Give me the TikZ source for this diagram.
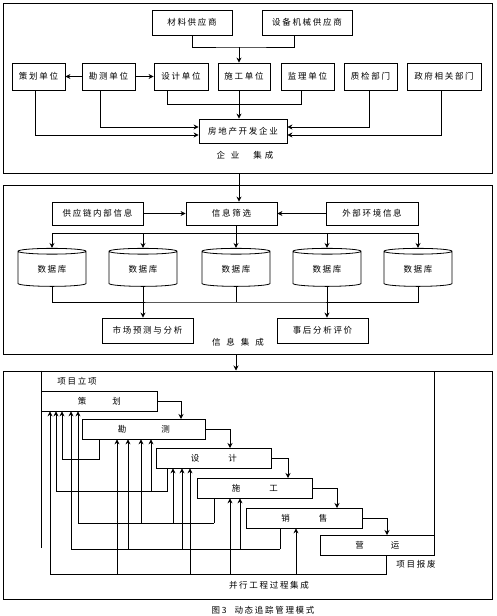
\documentclass[tikz,border=0pt]{standalone}
\usepackage{fontspec}
\newfontfamily\cjk{Noto Sans CJK SC}[LetterSpace=20]
\usetikzlibrary{arrows.meta,shapes.geometric}

\tikzset{
	box/.style={draw, line width=.8pt, inner sep=1pt},
	unit/.style={box, minimum height=27pt},
	jieduan/.style={box, anchor=north west, minimum height=19.5pt},
	zone/.style={draw, line width=1pt, inner sep=0pt, minimum width=489pt},
	db/.style={draw, line width=.8pt, cylinder, shape border rotate=90, aspect=.2,
		minimum width=68pt, minimum height=38pt, inner sep=0pt},
	arr/.style={-{Stealth[length=5pt,width=5pt]}},
}

\begin{document}
\begin{tikzpicture}[x=1pt, y=-1pt, line width=.8pt,
	every node/.style={font={\cjk\fontsize{8.5pt}{10pt}\selectfont}}]
	\useasboundingbox (0,0) rectangle (497,616);

	% drei Bereiche
	\node[zone, minimum height=170pt] (qiye) at (247.5,88) {};
	\node[zone, minimum height=169pt] (xinxi) at (247.5,269.5) {};
	\node[zone, minimum height=228pt] (bingxing) at (247.5,485) {};

	% Unternehmensintegration
	\node[box, minimum width=80pt, minimum height=25pt] (cailiao) at (192,22.5) {材料供应商};
	\node[box, minimum width=90pt, minimum height=25pt] (shebei) at (307,22.5) {设备机械供应商};
	\node[unit, minimum width=53pt] (chdw) at (38.5,76.5) {策划单位};
	\node[unit, minimum width=53pt] (kcdw) at (108.5,76.5) {勘测单位};
	\node[unit, minimum width=54pt] (sjdw) at (181,76.5) {设计单位};
	\node[unit, minimum width=52pt] (sgdw) at (244,76.5) {施工单位};
	\node[unit, minimum width=53pt] (jldw) at (307.5,76.5) {监理单位};
	\node[unit, minimum width=53pt] (zjbm) at (370.5,76.5) {质检部门};
	\node[unit, minimum width=74pt] (zfbm) at (444,76.5) {政府相关部门};
	\node[box, minimum width=88pt, minimum height=24pt] (kaifa) at (243,131) {房地产开发企业};
	\node (qiyejc) at (245,155) {企\hspace{6pt}业\hspace{14pt}集\hspace{3pt}成};
	\coordinate (gong) at (239,47);

	\draw (cailiao.south) |- (gong) -| ([xshift=-13pt]shebei.south);
	\draw[arr] (gong) -- (gong |- sgdw.north);
	\draw[arr] (kcdw.west) -- (chdw.east);
	\draw[arr] (kcdw.east) -- (sjdw.west);
	\draw ([xshift=-14pt]sjdw.south) -- ++(0,14) -| ([xshift=-6.5pt]jldw.south);
	\draw[arr] (gong |- sgdw.south) -- (gong |- kaifa.north);
	\draw[arr] ([xshift=-8.5pt]kcdw.south) |- ([yshift=4pt]kaifa.west);
	\draw[arr] ([xshift=-3.5pt]chdw.south) |- ([yshift=-4pt]kaifa.west);
	\draw[arr] ([xshift=-1.5pt]zjbm.south) |- ([yshift=4pt]kaifa.east);
	\draw[arr] ([xshift=-3pt]zfbm.south) |- ([yshift=-4pt]kaifa.east);

	% Informationsintegration
	\node[box, minimum width=91pt, minimum height=23pt] (gongying) at (97.5,213.5) {供应链内部信息};
	\node[box, minimum width=91pt, minimum height=23pt] (shaixuan) at (231.5,213.5) {信息筛选};
	\node[box, minimum width=92pt, minimum height=23pt] (waibu) at (372,213.5) {外部环境信息};
	\node[db] (db1) at (52,269) {数据库};
	\node[db] (db2) at (143,269) {数据库};
	\node[db] (db3) at (236,269) {数据库};
	\node[db] (db4) at (327,269) {数据库};
	\node[db] (db5) at (418,269) {数据库};
	\node[box, minimum width=91pt, minimum height=25pt] (shichang) at (147.5,330.5) {市场预测与分析};
	\node[box, minimum width=91pt, minimum height=25pt] (shihou) at (322.5,330.5) {事后分析评价};
	\node (xinxijc) at (238,342) {信\hspace{6pt}息\hspace{6pt}集\hspace{6pt}成};
	\coordinate (fen) at (236,233);
	\coordinate (he) at (236,302);

	\draw[arr] (gong |- qiye.south) -- (gong |- shaixuan.north);
	\draw[arr] (gongying) -- (shaixuan);
	\draw[arr] (waibu) -- (shaixuan);
	\draw ([xshift=4.5pt]shaixuan.south) -- (fen);
	\draw (db1.north |- fen) -- (db5.north |- fen);
	\draw[arr] (db1.north |- fen) -- (db1.north);
	\draw[arr] (db2.north |- fen) -- (db2.north);
	\draw[arr] (db3.north |- fen) -- (db3.north);
	\draw[arr] (db4.north |- fen) -- (db4.north);
	\draw[arr] (db5.north |- fen) -- (db5.north);
	\draw (db1.south) |- (he) -| (db5.south);
	\draw (db2.south) -- (db2.south |- he);
	\draw (db3.south) -- (db3.south |- he);
	\draw (db4.south) -- (db4.south |- he);
	\draw[arr] (db2.south |- he) -- (db2.south |- shichang.north);
	\draw[arr] (db4.south |- he) -- (db4.south |- shihou.north);
	\draw[arr] (fen |- xinxi.south) -- (fen |- bingxing.north);

	% Parallelprozess
	\node[jieduan, minimum width=116pt] (cehua) at (41,391) {策\hspace{26pt}划};
	\node[jieduan, minimum width=123pt] (kance) at (82,419) {勘\hspace{35pt}测};
	\node[jieduan, minimum width=115pt] (sheji) at (156,448) {设\hspace{29pt}计};
	\node[jieduan, minimum width=115pt] (shigong) at (197,478) {施\hspace{29pt}工};
	\node[jieduan, minimum width=116pt] (xiaoshou) at (246,508) {销\hspace{29pt}售};
	\node[jieduan, minimum width=114pt] (yunying) at (320,535) {营\hspace{27pt}运};
	\node (lixiang) at (77,381) {项目立项};
	\node (baofei) at (416,564) {项目报废};
	\node (jicheng) at (269,585) {并行工程过程集成};
	\node (tuming) at (263,610) {图3\hspace{8pt}动态追踪管理模式};

	\draw (cehua.north west |- bingxing.north) -- ++(0,177);
	\draw (yunying.south east) -- (yunying.south east |- bingxing.north);

	\draw[arr] (cehua.east) -| ([xshift=99pt]kance.north west);
	\draw[arr] (kance.east) -| ([xshift=74pt]sheji.north west);
	\draw[arr] (sheji.east) -| ([xshift=91pt]shigong.north west);
	\draw[arr] (shigong.east) -| ([xshift=91pt]xiaoshou.north west);
	\draw[arr] (xiaoshou.east) -| ([xshift=67pt]yunying.north west);

	% Rueckkopplung
	\draw[arr] ([xshift=17pt]kance.south west) -- ++(0,20.5) -| ([xshift=21pt]cehua.south west);

	\coordinate (r2) at ([xshift=11pt,yshift=-23.5pt]sheji.south west);
	\draw ([xshift=11pt]sheji.south west) -- (r2);
	\draw[arr] (r2) -| ([xshift=15pt]cehua.south west);
	\draw[arr] ([xshift=69pt]kance.south west |- r2) -- ([xshift=69pt]kance.south west);

	\coordinate (r3) at ([xshift=17pt,yshift=-25pt]shigong.south west);
	\draw ([xshift=17pt]shigong.south west) -- (r3);
	\draw[arr] (r3) -| ([xshift=37pt]cehua.south west);
	\draw[arr] ([xshift=59pt]kance.south west |- r3) -- ([xshift=59pt]kance.south west);
	\draw[arr] ([xshift=17pt]sheji.south west |- r3) -- ([xshift=17pt]sheji.south west);

	\coordinate (r4) at ([xshift=34pt,yshift=-21pt]xiaoshou.south west);
	\draw ([xshift=34pt]xiaoshou.south west) -- (r4);
	\draw[arr] (r4) -| ([xshift=30pt]cehua.south west);
	\draw[arr] ([xshift=46pt]kance.south west |- r4) -- ([xshift=46pt]kance.south west);
	\draw[arr] ([xshift=26pt]sheji.south west |- r4) -- ([xshift=26pt]sheji.south west);
	\draw[arr] ([xshift=43pt]shigong.south west |- r4) -- ([xshift=43pt]shigong.south west);

	\coordinate (r5) at ([xshift=66pt,yshift=-19.5pt]yunying.south west);
	\draw ([xshift=66pt]yunying.south west) -- (r5);
	\draw[arr] (r5) -| ([xshift=9pt]cehua.south west);
	\draw[arr] ([xshift=35pt]kance.south west |- r5) -- ([xshift=35pt]kance.south west);
	\draw[arr] ([xshift=34pt]sheji.south west |- r5) -- ([xshift=34pt]sheji.south west);
	\draw[arr] ([xshift=33pt]shigong.south west |- r5) -- ([xshift=33pt]shigong.south west);
	\draw[arr] ([xshift=50pt]xiaoshou.south west |- r5) -- ([xshift=50pt]xiaoshou.south west);
\end{tikzpicture}
\end{document}
